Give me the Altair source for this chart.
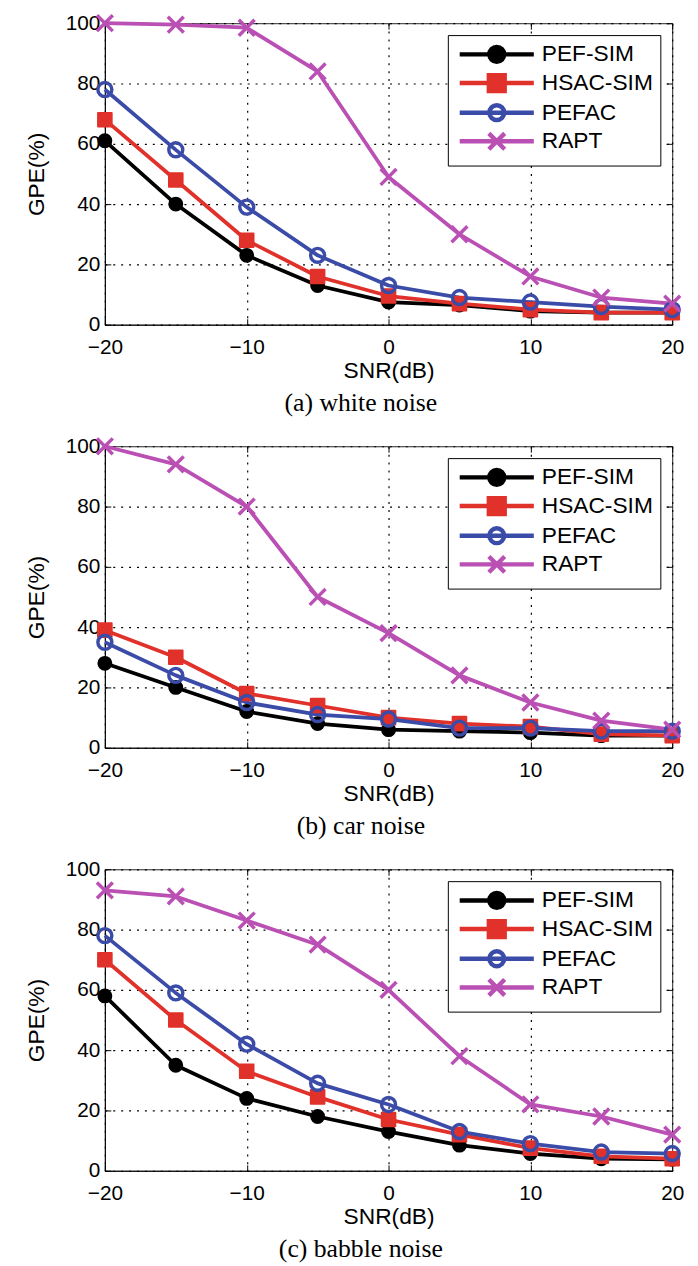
import altair as alt
import pandas as pd

snr = [-20, -15, -10, -5, 0, 5, 10, 15, 20]
series_names = ["PEF-SIM", "HSAC-SIM", "PEFAC", "RAPT"]
x_ticks = [-20, -10, 0, 10, 20]
y_ticks = [0, 20, 40, 60, 80, 100]

# (a) white noise
white_pef = [61, 40, 23, 13, 7.5, 6.5, 4.5, 4, 4]
white_hsac = [68, 48, 28, 16, 9.5, 7, 5, 4, 4]
white_pefac = [78, 58, 39, 23, 13, 9, 7.5, 6, 5]
white_rapt = [100, 99.5, 98.5, 84, 49, 30, 16, 9, 7]

# (b) car noise
car_pef = [28, 20, 12, 8, 6, 5.5, 5, 4, 4]
car_hsac = [39, 30, 18, 14, 10, 8, 7, 4.5, 4]
car_pefac = [35, 24, 15, 11, 9.5, 6.5, 6.5, 5.5, 5.5]
car_rapt = [100, 94, 80, 50, 38, 24, 15, 9, 6]

# (c) babble noise
babble_pef = [58, 35, 24, 18, 13, 8.5, 5.7, 4, 3.8]
babble_hsac = [70, 50, 33, 24.5, 17, 12, 7.5, 4.8, 4]
babble_pefac = [78, 59, 42, 29, 22, 13, 9, 6.2, 5.7]
babble_rapt = [93, 91, 83, 75, 60, 38, 22, 18, 12]

captions = ["(a) white noise", "(b) car noise", "(c) babble noise"]

line_colors = ["#000000", "#e0312a", "#3b4ba8", "#ba4fb4"]
fill_colors = ["#000000", "#e0312a", "transparent", "transparent"]
marker_shapes = [
    "circle",
    "square",
    "circle",
    "M-1,-1L1,1M-1,1L1,-1",
]
marker_sizes = [170, 190, 200, 256]
marker_strokes = [2, 2, 3.5, 3.5]
legend_paths = [
    "M-3.75,0L3.75,0M-0.75,0A0.75,0.75,0,1,1,0.75,0A0.75,0.75,0,1,1,-0.75,0Z",
    "M-3.75,0L3.75,0M-0.8,-0.8L0.8,-0.8L0.8,0.8L-0.8,0.8Z",
    "M-3.75,0L3.75,0M-0.75,0A0.75,0.75,0,1,1,0.75,0A0.75,0.75,0,1,1,-0.75,0Z",
    "M-3.75,0L3.75,0M-0.8,-0.8L0.8,0.8M-0.8,0.8L0.8,-0.8",
]

FONT = "Liberation Sans"
TICK = 6


def make_panel(values, caption):
    rows = []
    for name, vals in zip(series_names, values):
        for s, v in zip(snr, vals):
            rows.append({"snr": s, "gpe": v, "series": name})
    df = pd.DataFrame(rows)
    base = alt.Chart(df)

    x_scale = alt.Scale(domain=[-20, 20], nice=False)
    y_scale = alt.Scale(domain=[0, 100], nice=False)

    x = alt.X(
        "snr:Q",
        scale=x_scale,
        axis=alt.Axis(values=x_ticks, title="SNR(dB)", labelPadding=12,
                      titlePadding=2, ticks=False, labelFlush=False),
    )
    y = alt.Y(
        "gpe:Q",
        scale=y_scale,
        axis=alt.Axis(values=y_ticks, title="GPE(%)", labelPadding=5,
                      titlePadding=17, ticks=False, labelFlush=False),
    )
    stroke_scale = alt.Scale(domain=series_names, range=line_colors)
    fill_scale = alt.Scale(domain=series_names, range=fill_colors)

    leg = alt.Legend(
        title=None,
        orient="top-right",
        offset=12,
        padding=7,
        strokeColor="#000000",
        fillColor="#ffffff",
        labelFont=FONT,
        labelFontSize=23,
        labelColor="#000000",
        symbolSize=400,
        symbolStrokeWidth=4.5,
        symbolOffset=30,
        labelOffset=33,
        rowPadding=-5,
        symbolOpacity=1,
        symbolFillColor="#ffffff",
        symbolStrokeColor="#000000",
    )
    # legend-only layer (no rows drawn); placed first so its legend wins the merge
    legend_layer = (
        base.transform_filter("false")
        .mark_point(opacity=1, filled=False, strokeWidth=4.5)
        .encode(
            stroke=alt.Stroke("series:N", scale=stroke_scale, legend=leg),
            fill=alt.Fill("series:N", scale=fill_scale, legend=leg),
            shape=alt.Shape(
                "series:N",
                scale=alt.Scale(domain=series_names, range=legend_paths),
                legend=leg,
            ),
        )
    )
    data_layers = [legend_layer]

    lines = base.mark_line(strokeWidth=3.8, strokeJoin="round").encode(
        x=x, y=y, stroke=alt.Stroke("series:N", scale=stroke_scale, legend=None)
    )
    data_layers.append(lines)

    for name, shp, size, sw in zip(series_names, marker_shapes, marker_sizes, marker_strokes):
        data_layers.append(
            base.transform_filter(alt.datum.series == name)
            .mark_point(shape=shp, size=size, strokeWidth=sw, opacity=1,
                        filled=False, strokeJoin="round")
            .encode(
                x=x,
                y=y,
                stroke=alt.Stroke("series:N", scale=stroke_scale, legend=None),
                fill=alt.Fill("series:N", scale=fill_scale, legend=None),
            )
        )

    main = alt.layer(*data_layers)

    # inward tick marks on all four sides of the box (axes only, no rows drawn)
    def tick_axis(orient, vals):
        return alt.Axis(orient=orient, values=vals, labels=False, title=None,
                        domain=False, grid=False, ticks=True, tickSize=TICK,
                        offset=-TICK, tickColor="#000000", tickWidth=1)

    tick_layers = []
    for xo, yo in (("top", "right"), ("bottom", "left")):
        tick_layers.append(
            base.transform_filter("false")
            .mark_point(opacity=0)
            .encode(
                x=alt.X("snr:Q", scale=x_scale, axis=tick_axis(xo, x_ticks)),
                y=alt.Y("gpe:Q", scale=y_scale, axis=tick_axis(yo, y_ticks)),
            )
        )

    return (
        alt.layer(main, *tick_layers)
        .resolve_axis(x="independent", y="independent")
        .properties(
            width=574,
            height=305,
            title=alt.TitleParams(
                text=caption,
                orient="bottom",
                anchor="middle",
                font="Liberation Serif",
                fontSize=26,
                fontWeight="normal",
                color="#000000",
                offset=8,
                dx=-28,
            ),
        )
    )


panels = [
    make_panel([white_pef, white_hsac, white_pefac, white_rapt], captions[0]),
    make_panel([car_pef, car_hsac, car_pefac, car_rapt], captions[1]),
    make_panel([babble_pef, babble_hsac, babble_pefac, babble_rapt], captions[2]),
]

chart = (
    alt.vconcat(*panels, spacing=18)
    .resolve_scale(stroke="independent", fill="independent", shape="independent")
    .resolve_legend(stroke="independent", fill="independent", shape="independent")
    .properties(padding={"left": 17, "top": -4, "right": 5, "bottom": 0})
    .configure_view(stroke="#222222", strokeWidth=1)
    .configure_axis(
        labelFont=FONT,
        labelFontSize=21,
        labelColor="#000000",
        titleFont=FONT,
        titleFontSize=23,
        titleFontWeight="normal",
        titleColor="#000000",
        domainColor="#000000",
        gridColor="#000000",
        gridDash=[2, 6],
        gridWidth=1.2,
        gridOpacity=1,
    )
)

chart.save("out.html", embed_options={"renderer": "svg", "actions": False})
